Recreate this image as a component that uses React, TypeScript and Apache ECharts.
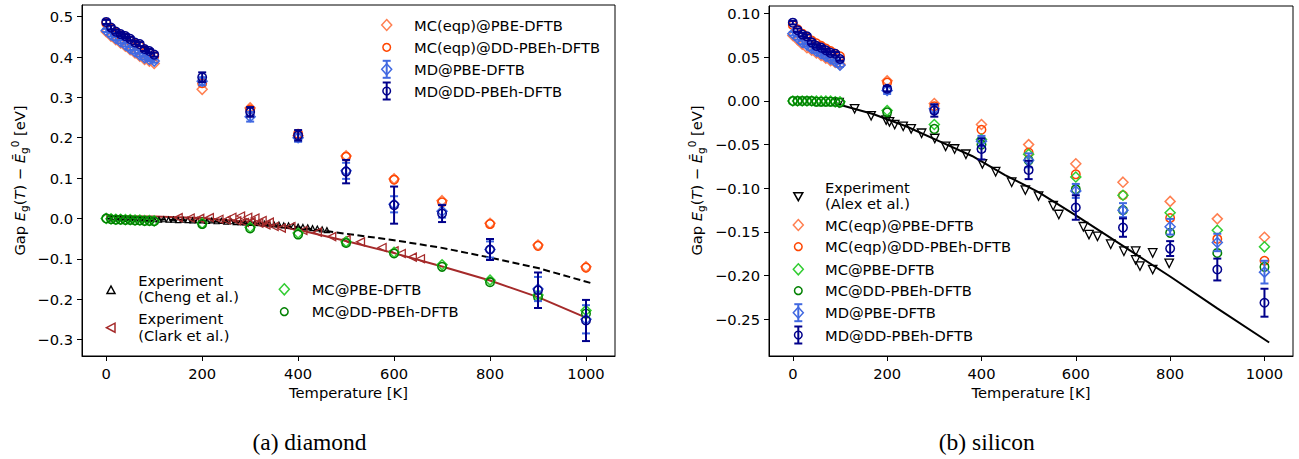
import React, { useEffect, useRef } from "react";
import * as echarts from "echarts";

const F = "DejaVu Sans";
const FS = 14.7;

const T_SIM = [0, 10, 20, 30, 40, 50, 60, 70, 80, 90, 100, 200, 300, 400, 500, 600, 700, 800, 900, 1000];
const X_TICKS = [0, 200, 400, 600, 800, 1000];
const Y_TICKS_A = [-0.3, -0.2, -0.1, 0, 0.1, 0.2, 0.3, 0.4, 0.5];
const Y_TICKS_B = [-0.25, -0.2, -0.15, -0.1, -0.05, 0, 0.05, 0.1];

// ---------- (a) diamond ----------
const A_MCEQP_PBE = [0.463, 0.452, 0.443, 0.435, 0.427, 0.418, 0.41, 0.402, 0.394, 0.39, 0.384, 0.32, 0.274, 0.205, 0.155, 0.098, 0.044, -0.012, -0.066, -0.12];
const A_MCEQP_DD = [0.484, 0.47, 0.46, 0.453, 0.448, 0.44, 0.432, 0.427, 0.418, 0.41, 0.402, 0.335, 0.27, 0.21, 0.153, 0.096, 0.04, -0.014, -0.068, -0.122];
const A_MC_PBE = [0, -0.001, -0.002, -0.002, -0.003, -0.003, -0.004, -0.004, -0.005, -0.005, -0.006, -0.012, -0.022, -0.036, -0.058, -0.084, -0.115, -0.153, -0.19, -0.228];
const A_MC_DD = [0, -0.002, -0.003, -0.003, -0.004, -0.004, -0.005, -0.005, -0.006, -0.006, -0.007, -0.014, -0.025, -0.04, -0.061, -0.087, -0.12, -0.158, -0.195, -0.236];
const A_MD_PBE = [0.466, 0.455, 0.446, 0.438, 0.43, 0.421, 0.413, 0.405, 0.398, 0.394, 0.39, 0.34, 0.252, 0.2, 0.118, 0.035, 0.018, -0.077, -0.175, -0.25];
const A_MD_PBE_ERR = [0.004, 0.004, 0.004, 0.004, 0.004, 0.004, 0.004, 0.004, 0.004, 0.004, 0.004, 0.01, 0.012, 0.01, 0.02, 0.02, 0.016, 0.02, 0.03, 0.035];
const A_MD_DD = [0.487, 0.473, 0.463, 0.457, 0.452, 0.445, 0.436, 0.432, 0.42, 0.415, 0.406, 0.35, 0.264, 0.206, 0.116, 0.033, 0.012, -0.077, -0.178, -0.253];
const A_MD_DD_ERR = [0.005, 0.005, 0.005, 0.005, 0.005, 0.005, 0.005, 0.005, 0.005, 0.005, 0.005, 0.012, 0.012, 0.013, 0.029, 0.046, 0.021, 0.026, 0.044, 0.051];

const CHENG_T = [10, 20, 30, 40, 50, 60, 70, 80, 90, 100, 110, 120, 130, 140, 150, 160, 170, 180, 190, 200, 210, 220, 230, 240, 250, 260, 270, 280, 290, 300, 310, 320, 330, 340, 350, 360, 370, 380, 390, 400, 410, 420, 430, 440, 450, 460];
const CHENG_V = [0, 0, 0, -0.001, -0.001, -0.001, -0.001, -0.002, -0.002, -0.002, -0.003, -0.002, -0.003, -0.003, -0.004, -0.003, -0.004, -0.005, -0.004, -0.005, -0.006, -0.005, -0.007, -0.006, -0.008, -0.007, -0.009, -0.009, -0.01, -0.011, -0.011, -0.012, -0.013, -0.013, -0.015, -0.015, -0.017, -0.017, -0.019, -0.02, -0.021, -0.022, -0.024, -0.025, -0.027, -0.029];
const CHENG_FIT_T = [0, 100, 200, 300, 400, 500, 600, 700, 800, 900, 1010];
const CHENG_FIT_V = [0, -0.002, -0.006, -0.012, -0.022, -0.038, -0.054, -0.073, -0.097, -0.123, -0.16];

const CLARK_T = [150, 175, 195, 215, 235, 250, 262, 272, 280, 288, 295, 302, 310, 318, 325, 333, 340, 350, 365, 385, 410, 440, 470, 500, 530, 575, 600, 615, 638, 655];
const CLARK_V = [0.002, 0.001, 0, 0.002, -0.002, -0.004, 0.003, -0.006, 0.006, -0.01, 0.003, -0.008, 0.001, -0.012, -0.005, -0.016, -0.009, -0.02, -0.024, -0.02, -0.03, -0.034, -0.045, -0.052, -0.058, -0.072, -0.08, -0.087, -0.096, -0.1];
const CLARK_FIT_T = [0, 100, 200, 300, 400, 500, 600, 700, 800, 900, 1000];
const CLARK_FIT_V = [0.006, 0.005, 0.001, -0.009, -0.028, -0.056, -0.086, -0.119, -0.154, -0.195, -0.246];

// ---------- (b) silicon ----------
const B_MCEQP_PBE = [0.075, 0.07, 0.065, 0.061, 0.058, 0.055, 0.052, 0.049, 0.046, 0.044, 0.042, 0.023, -0.003, -0.027, -0.05, -0.072, -0.093, -0.115, -0.135, -0.156];
const B_MCEQP_DD = [0.087, 0.082, 0.077, 0.073, 0.069, 0.066, 0.063, 0.06, 0.057, 0.054, 0.051, 0.021, -0.006, -0.033, -0.059, -0.084, -0.108, -0.134, -0.158, -0.183];
const B_MC_PBE = [0, 0, 0, 0, 0, 0, 0, 0, 0, -0.001, -0.001, -0.011, -0.027, -0.044, -0.061, -0.087, -0.108, -0.128, -0.148, -0.167];
const B_MC_DD = [0, 0, 0, 0, 0, -0.001, -0.001, -0.001, -0.001, -0.001, -0.002, -0.013, -0.032, -0.05, -0.068, -0.101, -0.125, -0.151, -0.174, -0.19];
const B_MD_PBE = [0.077, 0.072, 0.067, 0.064, 0.06, 0.057, 0.054, 0.051, 0.048, 0.045, 0.041, 0.012, -0.009, -0.046, -0.068, -0.103, -0.125, -0.144, -0.162, -0.196];
const B_MD_PBE_ERR = [0.002, 0.002, 0.002, 0.002, 0.002, 0.002, 0.002, 0.002, 0.002, 0.002, 0.002, 0.004, 0.005, 0.006, 0.008, 0.008, 0.008, 0.009, 0.01, 0.013];
const B_MD_DD = [0.0896, 0.081, 0.076, 0.074, 0.067, 0.063, 0.061, 0.058, 0.055, 0.054, 0.048, 0.014, -0.011, -0.055, -0.079, -0.122, -0.145, -0.169, -0.193, -0.231];
const B_MD_DD_ERR = [0.002, 0.002, 0.002, 0.002, 0.002, 0.002, 0.002, 0.002, 0.002, 0.002, 0.002, 0.003, 0.007, 0.012, 0.0105, 0.014, 0.0105, 0.0085, 0.0125, 0.016];

const ALEX_T = [98, 131, 166, 198, 205, 216, 234, 251, 273, 301, 324, 343, 367, 402, 430, 464, 493, 521, 552, 564, 616, 628, 646, 674, 702, 727, 727, 736, 763, 763, 798];
const ALEX_V = [-0.002, -0.009, -0.017, -0.022, -0.024, -0.027, -0.029, -0.032, -0.037, -0.043, -0.052, -0.055, -0.061, -0.072, -0.081, -0.093, -0.102, -0.109, -0.12, -0.13, -0.144, -0.153, -0.155, -0.164, -0.172, -0.172, -0.182, -0.189, -0.174, -0.193, -0.186];
const ALEX_FIT_T = [90, 170, 240, 310, 380, 450, 520, 600, 700, 800, 900, 1010];
const ALEX_FIT_V = [-0.003, -0.015, -0.029, -0.046, -0.063, -0.085, -0.104, -0.131, -0.166, -0.201, -0.2375, -0.2765];

const C_CORAL = "#FF7F50";
const C_ORED = "#FF4500";
const C_LIME = "#32CD32";
const C_GREEN = "#008000";
const C_RBLUE = "#4169E1";
const C_NAVY = "#00008B";
const C_BROWN = "#A52A2A";

const pairs = (t: number[], v: number[]) => t.map((x, i) => [x, v[i]]);

let zc = 2;
const scatter = (gi: number, t: number[], v: number[], symbol: string, color: string, size: number, rotate = 0, bw = 1.5) => ({
  type: "scatter",
  xAxisIndex: gi,
  yAxisIndex: gi,
  symbol,
  symbolSize: size,
  symbolRotate: rotate,
  data: pairs(t, v),
  itemStyle: { color: "rgba(0,0,0,0)", borderColor: color, borderWidth: bw, opacity: 1 },
  silent: true,
  z: zc++,
});

const errbar = (gi: number, t: number[], v: number[], e: number[], color: string) => ({
  type: "custom",
  xAxisIndex: gi,
  yAxisIndex: gi,
  silent: true,
  z: zc++,
  data: t.map((x, i) => [x, v[i], e[i]]),
  encode: { x: 0, y: 1 },
  renderItem: (_p: any, api: any) => {
    const x = api.value(0);
    const y = api.value(1);
    const e2 = api.value(2);
    const p1 = api.coord([x, y + e2]);
    const p2 = api.coord([x, y - e2]);
    const c = 4;
    const st = { stroke: color, lineWidth: 2 };
    return {
      type: "group",
      children: [
        { type: "line", shape: { x1: p1[0], y1: p1[1], x2: p2[0], y2: p2[1] }, style: st },
        { type: "line", shape: { x1: p1[0] - c, y1: p1[1], x2: p1[0] + c, y2: p1[1] }, style: st },
        { type: "line", shape: { x1: p2[0] - c, y1: p2[1], x2: p2[0] + c, y2: p2[1] }, style: st },
      ],
    };
  },
});

const line = (gi: number, t: number[], v: number[], color: string, width: number, dashed: boolean) => ({
  type: "line",
  xAxisIndex: gi,
  yAxisIndex: gi,
  data: pairs(t, v),
  symbol: "none",
  lineStyle: { color, width, type: dashed ? [7, 3.5] : "solid" },
  silent: true,
  z: zc++,
});

const fmt = (d: number) => (v: number) => {
  const s = Math.abs(v).toFixed(d);
  return v < -1e-9 ? "\u2212" + s : s;
};

const xAxis = (gi: number) => ({
  type: "value",
  gridIndex: gi,
  min: -50.5,
  max: 1060.5,
  axisLine: { show: true, onZero: false, lineStyle: { color: "#000", width: 1 } },
  axisTick: { show: true, length: 5, customValues: X_TICKS, lineStyle: { color: "#000", width: 1 } },
  axisLabel: { customValues: X_TICKS, color: "#000", fontSize: FS, fontFamily: F, margin: 10, formatter: (v: number) => String(Math.round(v)) },
  splitLine: { show: false },
});

const yAxis = (gi: number, min: number, max: number, ticks: number[], d: number) => ({
  type: "value",
  gridIndex: gi,
  min,
  max,
  axisLine: { show: true, onZero: false, lineStyle: { color: "#000", width: 1 } },
  axisTick: { show: true, length: 5, customValues: ticks, lineStyle: { color: "#000", width: 1 } },
  axisLabel: { customValues: ticks, color: "#000", fontSize: FS, fontFamily: F, margin: 9, formatter: fmt(d) },
  splitLine: { show: false },
});

// ---------- legend glyph helpers (decoration) ----------
const txt = (x: number, y: number, s: string) => ({
  type: "text",
  x,
  y,
  silent: true,
  style: { text: s, fill: "#000", font: `${FS}px '${F}'`, align: "left", verticalAlign: "middle" },
});
const gDiamond = (x: number, y: number, c: string) => ({
  type: "polygon",
  silent: true,
  shape: { points: [[x, y - 5.5], [x + 5, y], [x, y + 5.5], [x - 5, y]] },
  style: { fill: "none", stroke: c, lineWidth: 1.5 },
});
const gCircle = (x: number, y: number, c: string, r = 3.8) => ({
  type: "circle",
  silent: true,
  shape: { cx: x, cy: y, r },
  style: { fill: "none", stroke: c, lineWidth: 1.5 },
});
const gPoly = (pts: number[][], c: string) => ({
  type: "polygon",
  silent: true,
  shape: { points: pts },
  style: { fill: "none", stroke: c, lineWidth: 1.5 },
});
const gErr = (x: number, y: number, c: string) => {
  const st = { stroke: c, lineWidth: 2 };
  return [
    { type: "line", silent: true, shape: { x1: x, y1: y - 8.5, x2: x, y2: y + 8.5 }, style: st },
    { type: "line", silent: true, shape: { x1: x - 4, y1: y - 8.5, x2: x + 4, y2: y - 8.5 }, style: st },
    { type: "line", silent: true, shape: { x1: x - 4, y1: y + 8.5, x2: x + 4, y2: y + 8.5 }, style: st },
  ];
};

const ylabel = (x: number) => ({
  type: "text",
  x,
  y: 180.5,
  rotation: Math.PI / 2,
  silent: true,
  style: {
    text: "{n|Gap }{i|E}{s|g}{n|(}{i|T}{n|) \u2212 }{i|\u0112}{s|g}{p|0}{n| [eV]}",
    align: "center",
    verticalAlign: "middle",
    rich: {
      n: { fontSize: FS, fontFamily: F, fill: "#000", lineHeight: 20 },
      i: { fontSize: FS, fontFamily: F, fontStyle: "italic", fill: "#000", lineHeight: 20 },
      s: { fontSize: 10.5, fontFamily: F, fill: "#000", lineHeight: 11, verticalAlign: "bottom" },
      p: { fontSize: 10.5, fontFamily: F, fill: "#000", lineHeight: 11, verticalAlign: "top" },
    },
  },
});

const centerText = (x: number, y: number, s: string, font: string) => ({
  type: "text",
  x,
  y,
  silent: true,
  style: { text: s, fill: "#000", font, align: "center", verticalAlign: "middle" },
});

export default function App() {
  const ref = useRef<HTMLDivElement>(null);
  useEffect(() => {
    if (!ref.current) return;
    const chart = echarts.init(ref.current, undefined, { renderer: "svg" });
    zc = 2;
    const series = [
      // (a) diamond
      line(0, CHENG_FIT_T, CHENG_FIT_V, "#000", 2, true),
      line(0, CLARK_FIT_T, CLARK_FIT_V, C_BROWN, 2, false),
      scatter(0, CHENG_T, CHENG_V, "triangle", "#000", 5, 0, 1.2),
      scatter(0, CLARK_T, CLARK_V, "triangle", C_BROWN, 8, 90, 1.3),
      scatter(0, T_SIM, A_MCEQP_PBE, "diamond", C_CORAL, 10),
      scatter(0, T_SIM, A_MCEQP_DD, "circle", C_ORED, 8.5),
      scatter(0, T_SIM, A_MC_PBE, "diamond", C_LIME, 10),
      scatter(0, T_SIM, A_MC_DD, "circle", C_GREEN, 8.5),
      errbar(0, T_SIM, A_MD_PBE, A_MD_PBE_ERR, C_RBLUE),
      scatter(0, T_SIM, A_MD_PBE, "diamond", C_RBLUE, 10),
      errbar(0, T_SIM, A_MD_DD, A_MD_DD_ERR, C_NAVY),
      scatter(0, T_SIM, A_MD_DD, "circle", C_NAVY, 8.5),
      // (b) silicon
      line(1, ALEX_FIT_T, ALEX_FIT_V, "#000", 2, false),
      scatter(1, ALEX_T, ALEX_V, "triangle", "#000", 8.5, 180, 1.3),
      scatter(1, T_SIM, B_MCEQP_PBE, "diamond", C_CORAL, 10),
      scatter(1, T_SIM, B_MCEQP_DD, "circle", C_ORED, 8.5),
      scatter(1, T_SIM, B_MC_PBE, "diamond", C_LIME, 10),
      scatter(1, T_SIM, B_MC_DD, "circle", C_GREEN, 8.5),
      errbar(1, T_SIM, B_MD_PBE, B_MD_PBE_ERR, C_RBLUE),
      scatter(1, T_SIM, B_MD_PBE, "diamond", C_RBLUE, 10),
      errbar(1, T_SIM, B_MD_DD, B_MD_DD_ERR, C_NAVY),
      scatter(1, T_SIM, B_MD_DD, "circle", C_NAVY, 8.5),
    ];

    const graphic: any[] = [
      ylabel(19),
      ylabel(696),
      centerText(348.5, 392, "Temperature [K]", `${FS}px '${F}'`),
      centerText(1031, 392, "Temperature [K]", `${FS}px '${F}'`),
      centerText(309.5, 442, "(a) diamond", "23.5px 'Liberation Serif'"),
      centerText(986.7, 442, "(b) silicon", "23.5px 'Liberation Serif'"),
      // left top legend
      gDiamond(386.7, 25, C_CORAL),
      txt(414, 25, "MC(eqp)@PBE-DFTB"),
      gCircle(386.7, 47.3, C_ORED),
      txt(414, 47.3, "MC(eqp)@DD-PBEh-DFTB"),
      ...gErr(386.7, 69.3, C_RBLUE),
      gDiamond(386.7, 69.3, C_RBLUE),
      txt(414, 69.3, "MD@PBE-DFTB"),
      ...gErr(386.7, 91, C_NAVY),
      gCircle(386.7, 91, C_NAVY),
      txt(414, 91, "MD@DD-PBEh-DFTB"),
      // left bottom legend
      gPoly([[111, 286], [115, 293.5], [107, 293.5]], "#000"),
      txt(138.3, 280, "Experiment"),
      txt(138.3, 296.7, "(Cheng et al.)"),
      gPoly([[106.5, 327.7], [115, 323.2], [115, 332.2]], C_BROWN),
      txt(138.3, 318.3, "Experiment"),
      txt(138.3, 335, "(Clark et al.)"),
      gDiamond(284.3, 289.3, C_LIME),
      txt(311.7, 289.3, "MC@PBE-DFTB"),
      gCircle(284.3, 311.7, C_GREEN),
      txt(311.7, 311.7, "MC@DD-PBEh-DFTB"),
      // right legend
      gPoly([[793.8, 192.7], [802.8, 192.7], [798.3, 200.7]], "#000"),
      txt(825, 187.7, "Experiment"),
      txt(825, 203.3, "(Alex et al.)"),
      gDiamond(798.3, 225, C_CORAL),
      txt(825, 225, "MC(eqp)@PBE-DFTB"),
      gCircle(798.3, 246.7, C_ORED),
      txt(825, 246.7, "MC(eqp)@DD-PBEh-DFTB"),
      gDiamond(798.3, 269.3, C_LIME),
      txt(825, 269.3, "MC@PBE-DFTB"),
      gCircle(798.3, 290.7, C_GREEN),
      txt(825, 290.7, "MC@DD-PBEh-DFTB"),
      ...gErr(798.3, 312.7, C_RBLUE),
      gDiamond(798.3, 312.7, C_RBLUE),
      txt(825, 312.7, "MD@PBE-DFTB"),
      ...gErr(798.3, 335, C_NAVY),
      gCircle(798.3, 335, C_NAVY),
      txt(825, 335, "MD@DD-PBEh-DFTB"),
    ];

    chart.setOption({
      animation: false,
      backgroundColor: "#fff",
      textStyle: { fontFamily: F },
      grid: [
        { left: 82, top: 5, width: 533, height: 351, show: true, borderColor: "#000", borderWidth: 1, backgroundColor: "transparent" },
        { left: 769, top: 6, width: 524, height: 350, show: true, borderColor: "#000", borderWidth: 1, backgroundColor: "transparent" },
      ],
      xAxis: [xAxis(0), xAxis(1)],
      yAxis: [
        yAxis(0, -0.341, 0.529, Y_TICKS_A, 1),
        yAxis(1, -0.292, 0.1087, Y_TICKS_B, 2),
      ],
      series,
      graphic,
    });
    return () => chart.dispose();
  }, []);
  return (
    <div
      ref={ref}
      style={{ position: "fixed", left: 0, top: 0, width: 1299, height: 459, background: "#fff" }}
    />
  );
}
